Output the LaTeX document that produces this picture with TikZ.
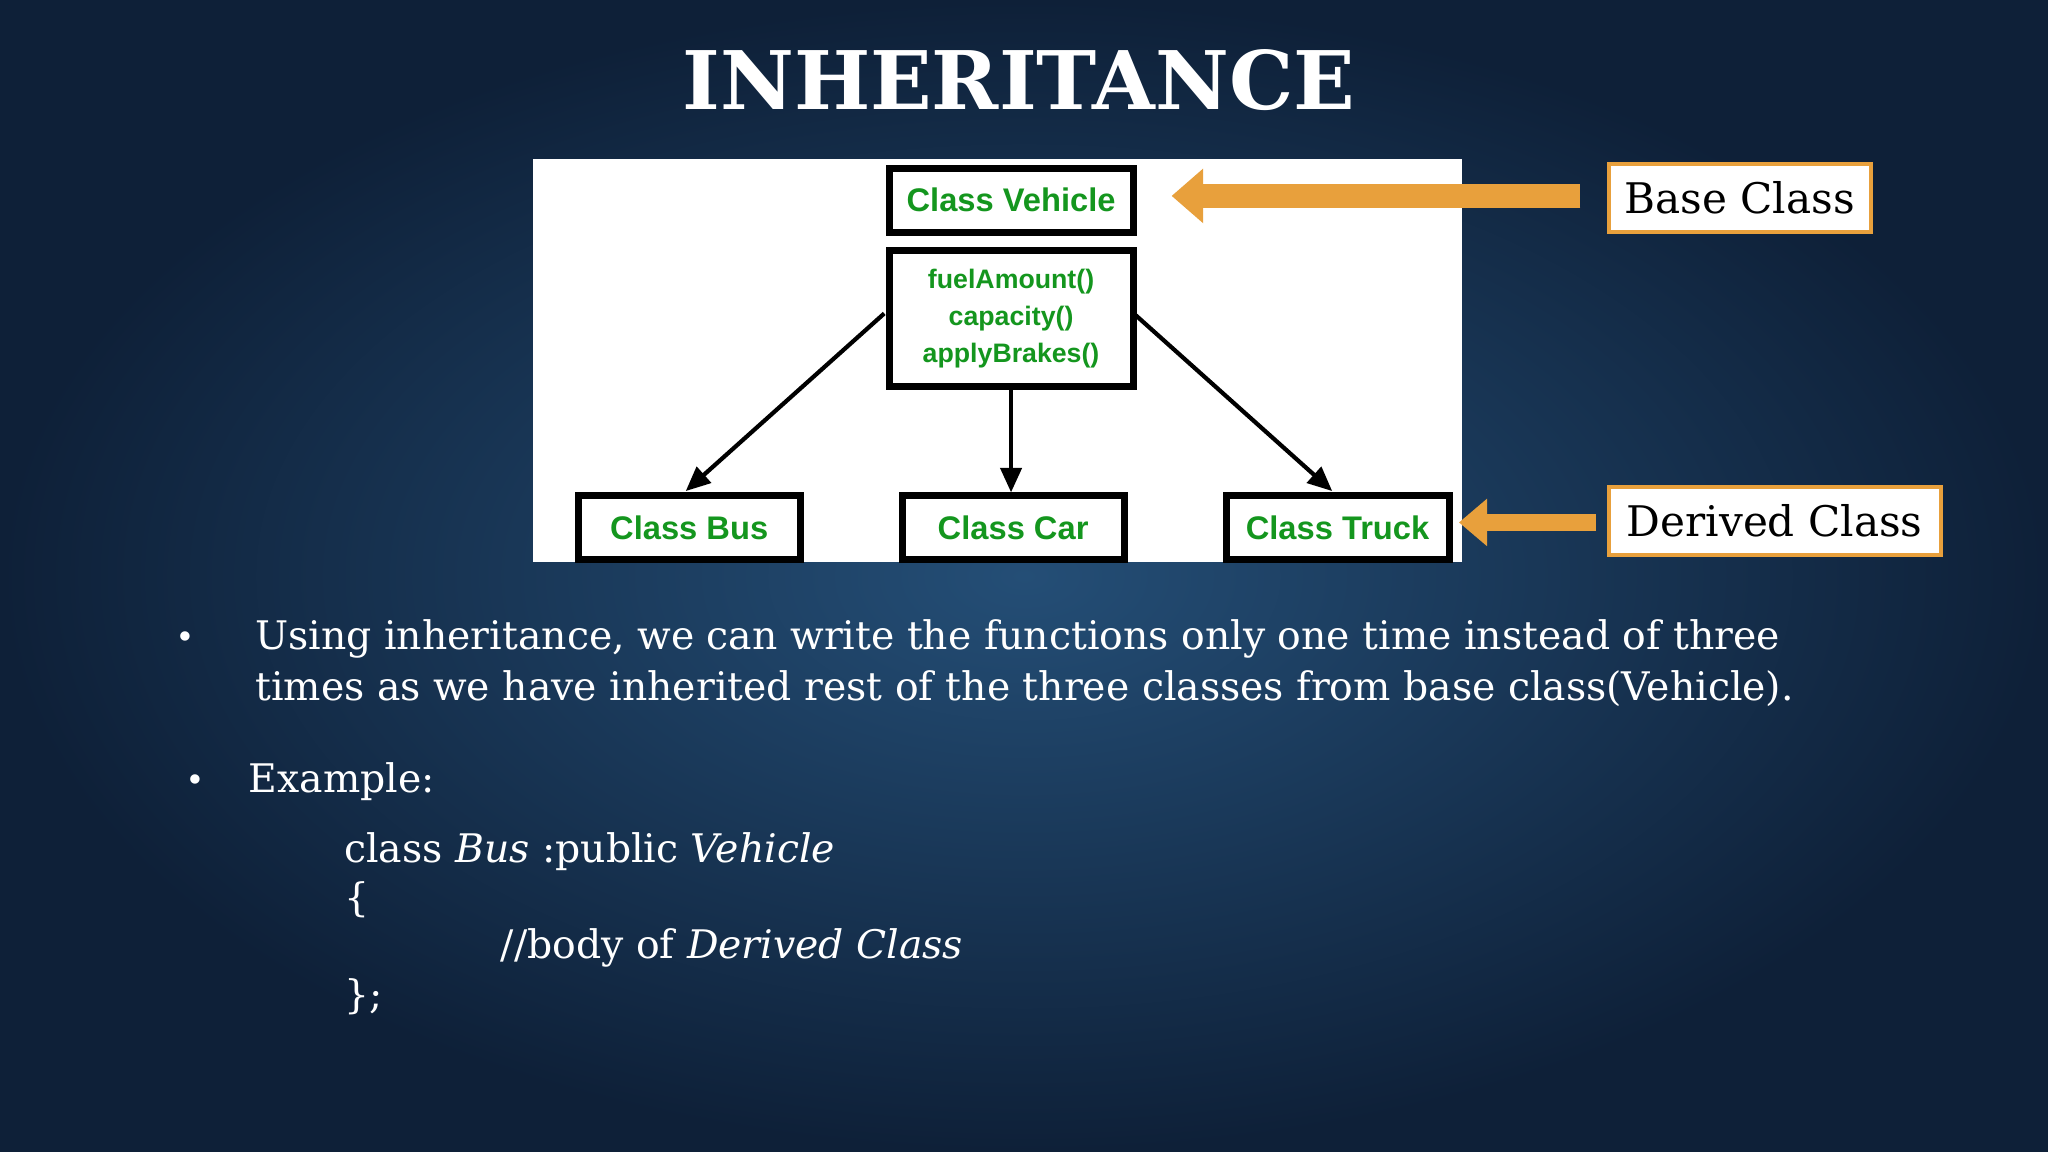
\documentclass[tikz,border=0pt]{standalone}
\usepackage{fontspec}
\setmainfont{DejaVu Serif}
\newfontfamily\dsans{Liberation Sans}
\newfontfamily\tserif{Liberation Serif}
\usetikzlibrary{arrows.meta}
\definecolor{bgdark}{RGB}{14,32,56}
\definecolor{bglight}{RGB}{36,78,118}
\definecolor{gfg}{RGB}{20,150,30}
\definecolor{org}{RGB}{232,160,60}
\begin{document}
\begin{tikzpicture}[x=0.013061cm,y=-0.013061cm,
  cbox/.style={draw=black,line width=2pt,fill=white,font=\dsans\bfseries\fontsize{9.3}{12}\selectfont,text=gfg,anchor=north west,inner sep=0pt,align=center},
  lbl/.style={draw=org,line width=1.2pt,fill=white,font=\fontsize{12}{15}\selectfont,text=black,anchor=north west,inner sep=0pt},
  oarrow/.style={org,line width=7pt,-{Triangle[length=9pt,width=15pt]}},
  body/.style={text=white,font=\fontsize{11.2}{15}\selectfont,anchor=base west,inner sep=0pt}]
\useasboundingbox (0,0) rectangle (1568,882);
\shade[inner color=bglight,outer color=bgdark] (0,0) rectangle (1568,882);
\node[text=white,font=\bfseries\fontsize{23}{28}\selectfont,anchor=base] (title) at (780,84) {INHERITANCE};
\fill[white] (408,122) rectangle (1119,430);
\node[cbox,minimum width=2.44cm,minimum height=0.64cm] (veh) at (678,126) {Class Vehicle};
\node[cbox,minimum width=2.44cm,minimum height=1.36cm,font=\dsans\bfseries\fontsize{7.6}{10.5}\selectfont] (meth) at (678,189) {fuelAmount()\\capacity()\\applyBrakes()};
\node[cbox,minimum width=2.22cm,minimum height=0.64cm] (bus) at (440,377) {Class Bus};
\node[cbox,minimum width=2.22cm,minimum height=0.64cm] (car) at (688,377) {Class Car};
\node[cbox,minimum width=2.23cm,minimum height=0.64cm] (truck) at (936,377) {Class Truck};
\coordinate (ml) at (677,240); \coordinate (mr) at (868,240);
\draw[line width=1.2pt,-{Triangle[length=7pt,width=6pt]}] (ml) -- (525,376);
\draw[line width=1.2pt,-{Triangle[length=7pt,width=6pt]}] (meth.south) -- (meth.south |- car.north);
\draw[line width=1.2pt,-{Triangle[length=7pt,width=6pt]}] (mr) -- (1020,376);
\node[lbl,minimum width=2.62cm,minimum height=0.68cm] (base) at (1230,124) {Base Class};
\node[lbl,minimum width=3.32cm,minimum height=0.68cm] (der) at (1230,371) {Derived Class};
\draw[oarrow] (1210,150) -- (897,150);
\draw[oarrow,line width=5pt,-{Triangle[length=8pt,width=13pt]}] (1222,400) -- (1117,400);
\node[body] (b1) at (136,497) {\tserif •};
\node[body] (t1) at (195,497) {Using inheritance, we can write the functions only one time instead of three};
\node[body] (t2) at (195,536) {times as we have inherited rest of the three classes from base class(Vehicle).};
\node[body] (b2) at (144,607) {\tserif •};
\node[body] (t3) at (190,607) {Example:};
\node[body] (c1) at (263,660) {class \textit{Bus} :public \textit{Vehicle}};
\node[body] (c2) at (263,698) {\{};
\node[body] (c3) at (383,734) {//body of \textit{Derived Class}};
\node[body] (c4) at (263,772) {\};};
\end{tikzpicture}
\end{document}
